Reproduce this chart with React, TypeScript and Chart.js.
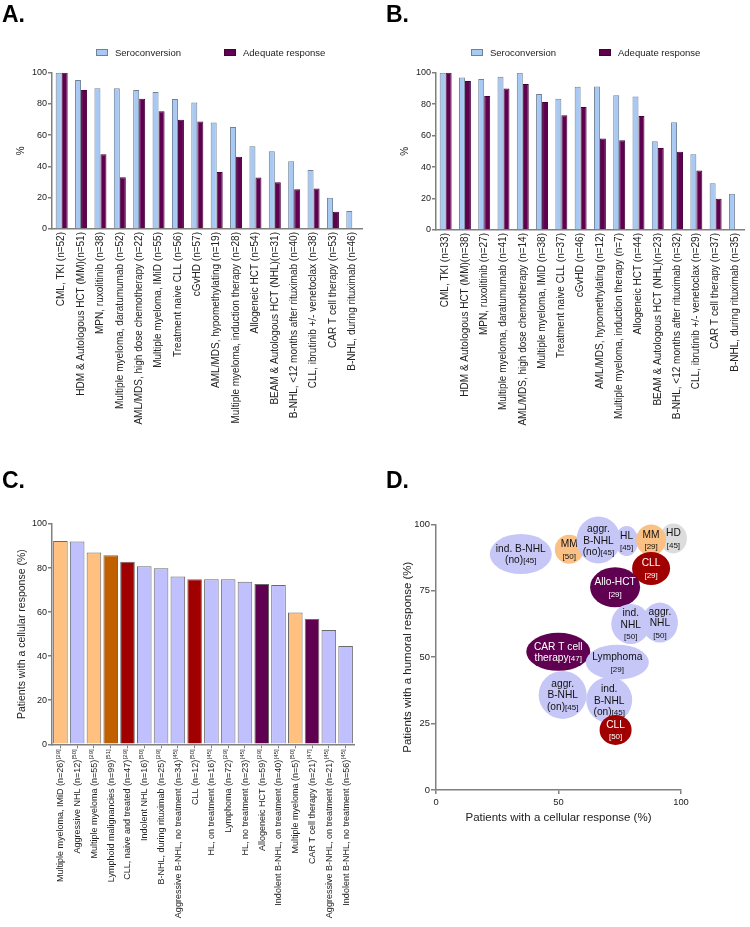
import React, { useEffect, useRef } from 'react';
import { Chart, registerables } from 'chart.js';

Chart.register(...registerables);

const FONT = "'Liberation Sans', Arial, Helvetica, sans-serif";
const TEXT = '#222222';
const AXIS = '#808080';
const LIGHT_BLUE = '#A9C9F5';
const DARK_PURPLE = '#600050';

// ---------- Panel A ----------
const catsA = [
  'CML, TKI (n=52)',
  'HDM & Autologous HCT (MM)(n=51)',
  'MPN, ruxolitinib (n=38)',
  'Multiple myeloma, daratumumab (n=52)',
  'AML/MDS, high dose chemotherapy (n=22)',
  'Multiple myeloma, IMiD (n=55)',
  'Treatment naive CLL (n=56)',
  'cGvHD (n=57)',
  'AML/MDS, hypomethylating (n=19)',
  'Multiple myeloma, induction therapy (n=28)',
  'Allogeneic HCT (n=54)',
  'BEAM & Autologous HCT (NHL)(n=31)',
  'B-NHL, <12 months after rituximab (n=40)',
  'CLL, ibrutinib +/- venetoclax (n=38)',
  'CAR T cell therapy (n=53)',
  'B-NHL, during rituximab (n=46)',
];
const seroA = [100, 95.3, 90, 90, 88.9, 87.6, 83.1, 81, 68.2, 65.2, 53, 49.8, 43.4, 37.8, 20, 11.5];
const adeqA = [100, 88.9, 47.9, 33.1, 83.3, 75.4, 69.9, 68.8, 36.5, 46.2, 32.9, 29.9, 25.4, 25.9, 11.1, 0];

// ---------- Panel B ----------
const catsB = [
  'CML, TKI (n=33)',
  'HDM & Autologous HCT (MM)(n=38)',
  'MPN, ruxolitinib (n=27)',
  'Multiple myeloma, daratumumab (n=41)',
  'AML/MDS, high dose chemotherapy (n=14)',
  'Multiple myeloma, IMiD (n=38)',
  'Treatment naive CLL (n=37)',
  'cGvHD (n=46)',
  'AML/MDS, hypomethylating (n=12)',
  'Multiple myeloma, induction therapy (n=7)',
  'Allogeneic HCT (n=44)',
  'BEAM & Autologous HCT (NHL)(n=23)',
  'B-NHL, <12 months after rituximab (n=32)',
  'CLL, ibrutinib +/- venetoclax (n=29)',
  'CAR T cell therapy (n=37)',
  'B-NHL, during rituximab (n=35)',
];
const seroB = [100, 97.0, 96.0, 97.5, 100, 86.5, 83.5, 91.1, 91.3, 85.6, 84.8, 56.4, 68.5, 48.1, 29.7, 23.0];
const adeqB = [100, 94.7, 85.2, 90.0, 92.8, 81.4, 72.9, 78.2, 58.1, 57.0, 72.5, 52.2, 49.8, 37.8, 19.8, 0];

const legendLabels = ['Seroconversion', 'Adequate response'];

// ---------- Panel C ----------
const catsC = [
  'Multiple myeloma, IMiD (n=26)',
  'Aggressive NHL (n=12)',
  'Multiple myeloma (n=55)',
  'Lymphoid malignancies (n=99)',
  'CLL, naive and treated (n=47)',
  'Indolent NHL (n=16)',
  'B-NHL, during rituximab (n=25)',
  'Aggressive B-NHL, no treatment (n=34)',
  'CLL (n=12)',
  'HL, on treatment (n=16)',
  'Lymphoma (n=72)',
  'HL, no treatment (n=23)',
  'Allogeneic HCT (n=59)',
  'Indolent B-NHL, on treatment (n=40)',
  'Multiple myeloma (n=5)',
  'CAR T cell therapy (n=21)',
  'Aggressive B-NHL, on treatment (n=21)',
  'Indolent B-NHL, no treatment (n=56)',
];
const refsC = ['29', '50', '29', '51', '29', '50', '29', '45', '50', '45', '29', '45', '29', '45', '50', '47', '45', '45'];
const cellC = [92.3, 92.0, 87.1, 85.8, 82.9, 80.8, 79.9, 76.2, 74.9, 74.9, 74.9, 73.8, 72.8, 72.3, 59.8, 56.9, 51.9, 44.6];
const groupC = ['mm', 'nhl', 'mm', 'lymphoid', 'cll', 'nhl', 'nhl', 'nhl', 'cll', 'nhl', 'nhl', 'nhl', 'hct', 'nhl', 'mm', 'hct', 'nhl', 'nhl'];

// ---------- Panel D ----------
const labelsD = [
  'ind. B-NHL\n(no)[45]',
  'MM\n[50]',
  'aggr.\nB-NHL\n(no)[45]',
  'HL\n[45]',
  'HD\n[45]',
  'MM\n[29]',
  'CLL\n[29]',
  'Allo-HCT\n[29]',
  'ind.\nNHL\n[50]',
  'aggr.\nNHL\n[50]',
  'CAR T cell\ntherapy[47]',
  'Lymphoma\n[29]',
  'aggr.\nB-NHL\n(on)[45]',
  'ind.\nB-NHL\n(on)[45]',
  'CLL\n[50]',
];
const cellD = [34.6, 54.4, 66.3, 77.8, 96.9, 87.8, 87.8, 73.1, 79.5, 91.4, 49.9, 74.0, 51.7, 70.7, 73.3];
const humoralD = [88.8, 90.6, 94.1, 93.7, 94.7, 94.1, 83.4, 76.3, 62.5, 63.0, 52.0, 48.1, 35.8, 33.9, 22.6];
const groupD = ['nhl', 'mm', 'nhl', 'nhl', 'hd', 'mm', 'cll', 'hct', 'nhl', 'nhl', 'hct', 'nhl', 'nhl', 'nhl', 'cll'];

// styles (not data)
const colorsC: Record<string, string> = {
  mm: '#FFC080',
  nhl: '#C0C0FF',
  lymphoid: '#C06000',
  cll: '#A00000',
  hct: '#600050',
};
const colorsD: Record<string, string> = {
  mm: '#FBC084',
  nhl: '#C6C6F7',
  hd: '#DCDCDC',
  cll: '#A00000',
  hct: '#600050',
};
const darkGroups = ['cll', 'hct'];
const radXD = [31, 14.5, 22, 11.5, 13.5, 15, 19, 25, 19.5, 18, 32, 31.5, 24, 23, 16];
const radYD = [20, 14.5, 23.5, 15, 15, 15.5, 16.5, 20, 20, 20, 19, 17.5, 24, 23, 15];

// ---------- plugins ----------
const abLegend = {
  id: 'abLegend',
  afterDraw(chart: any) {
    const ctx = chart.ctx;
    const boxX = [96, 224];
    const textX = [115, 243];
    ctx.save();
    ctx.font = `9.5px ${FONT}`;
    ctx.textBaseline = 'middle';
    ctx.textAlign = 'left';
    chart.data.datasets.forEach((ds: any, i: number) => {
      ctx.fillStyle = ds.backgroundColor;
      ctx.fillRect(boxX[i], 49, 12, 7);
      ctx.strokeStyle = ds.borderColor;
      ctx.lineWidth = 1;
      ctx.strokeRect(boxX[i] + 0.5, 49.5, 11, 6);
      ctx.fillStyle = TEXT;
      ctx.fillText(legendLabels[i], textX[i], 53);
    });
    ctx.restore();
  },
};

const cLabels = {
  id: 'cLabels',
  afterDraw(chart: any) {
    const xs = chart.scales.x;
    const ctx = chart.ctx;
    const y0 = xs.top + 5;
    ctx.save();
    ctx.fillStyle = TEXT;
    ctx.textBaseline = 'middle';
    ctx.textAlign = 'right';
    catsC.forEach((lab, i) => {
      const x = xs.getPixelForValue(i);
      ctx.save();
      ctx.translate(x, y0);
      ctx.rotate(-Math.PI / 2);
      const refTxt = `[${refsC[i]}]`;
      ctx.font = `6px ${FONT}`;
      const w = ctx.measureText(refTxt).width;
      ctx.fillText(refTxt, 0, -2.5);
      ctx.font = `9px ${FONT}`;
      ctx.fillText(lab, -w - 0.5, 0.5);
      ctx.restore();
    });
    ctx.restore();
  },
};

const bubbles = {
  id: 'bubbles',
  afterDatasetsDraw(chart: any) {
    const meta = chart.getDatasetMeta(0);
    const ctx = chart.ctx;
    const lh = 11.5;
    meta.data.forEach((pt: any, i: number) => {
      const { x, y } = pt;
      const g = groupD[i];
      ctx.save();
      ctx.beginPath();
      ctx.ellipse(x, y, radXD[i], radYD[i], 0, 0, Math.PI * 2);
      ctx.fillStyle = colorsD[g];
      ctx.fill();
      const lines = labelsD[i].split('\n');
      const n = lines.length;
      ctx.fillStyle = darkGroups.includes(g) ? '#FFFFFF' : '#111111';
      ctx.textBaseline = 'alphabetic';
      ctx.textAlign = 'left';
      lines.forEach((line, k) => {
        const m = line.match(/^(.*?)(\[\d+\])?$/);
        const main = m ? m[1] : line;
        const ref = m && m[2] ? m[2] : '';
        ctx.font = `10.2px ${FONT}`;
        const wm = ctx.measureText(main).width;
        ctx.font = `8px ${FONT}`;
        const wr = ref ? ctx.measureText(ref).width : 0;
        const cy = y - ((n - 1) * lh) / 2 + k * lh;
        const base = cy + 3.6;
        let sx = x - (wm + wr) / 2;
        if (main) {
          ctx.font = `10.2px ${FONT}`;
          ctx.fillText(main, sx, base);
          sx += wm;
        }
        if (ref) {
          ctx.font = `8px ${FONT}`;
          ctx.fillText(ref, sx, base);
        }
      });
      ctx.restore();
    });
  },
};

// ---------- configs ----------
function groupedConfig(cats: string[], sero: number[], adeq: number[], g: any) {
  return {
    type: 'bar',
    data: {
      labels: cats,
      datasets: [
        { label: legendLabels[0], data: sero, backgroundColor: LIGHT_BLUE, borderColor: '#6E8196', borderWidth: 1, barPercentage: 1, categoryPercentage: 0.62 },
        { label: legendLabels[1], data: adeq, backgroundColor: DARK_PURPLE, borderColor: '#45003A', borderWidth: 1, barPercentage: 1, categoryPercentage: 0.62 },
      ],
    },
    options: {
      responsive: false,
      animation: false,
      layout: { padding: { top: g.top, right: g.right, bottom: 0, left: 0 } },
      plugins: { legend: { display: false }, tooltip: { enabled: false } },
      scales: {
        x: {
          grid: { drawOnChartArea: false, drawTicks: false },
          border: { display: true, color: AXIS, width: 1.5 },
          ticks: { autoSkip: false, minRotation: 90, maxRotation: 90, padding: 3, color: TEXT, font: { family: FONT, size: 10 } },
          afterFit: (s: any) => { s.height = g.xh; },
        },
        y: {
          min: 0,
          max: 100,
          ticks: { stepSize: 20, padding: 1, color: TEXT, font: { family: FONT, size: 9 } },
          grid: { drawOnChartArea: false, drawTicks: true, tickLength: 4, color: AXIS, lineWidth: 1.5 },
          border: { display: true, color: AXIS, width: 1.5 },
          title: { display: true, text: '%', color: TEXT, font: { family: FONT, size: 10 }, padding: { top: g.titlePad, bottom: 0 } },
          afterFit: (s: any) => { s.width = g.yw; },
        },
      },
    },
    plugins: [abLegend],
  };
}

const buildA = () => groupedConfig(catsA, seroA, adeqA, { top: 72.7, right: 13, xh: 211, yw: 52, titlePad: 15.7 });
const buildB = () => groupedConfig(catsB, seroB, adeqB, { top: 72.7, right: 3, xh: 210, yw: 61, titlePad: 24 });

const buildC = () => ({
  type: 'bar',
  data: {
    labels: catsC,
    datasets: [
      {
        data: cellC,
        backgroundColor: groupC.map((k) => colorsC[k]),
        borderColor: '#6A6A6A',
        borderWidth: 1,
        barPercentage: 0.87,
        categoryPercentage: 1,
      },
    ],
  },
  options: {
    responsive: false,
    animation: false,
    layout: { padding: { top: 54, right: 21, bottom: 0, left: 0 } },
    plugins: { legend: { display: false }, tooltip: { enabled: false } },
    scales: {
      x: {
        grid: { drawOnChartArea: false, drawTicks: true, tickLength: 4, offset: false, color: AXIS, lineWidth: 1 },
        border: { display: true, color: AXIS, width: 1.5 },
        ticks: { display: false, autoSkip: false },
        afterFit: (s: any) => { s.height = 182.7; },
      },
      y: {
        min: 0,
        max: 100,
        ticks: { stepSize: 20, padding: 1, color: TEXT, font: { family: FONT, size: 9 } },
        grid: { drawOnChartArea: false, drawTicks: true, tickLength: 4, color: AXIS, lineWidth: 1.5 },
        border: { display: true, color: AXIS, width: 1.5 },
        title: { display: true, text: 'Patients with a cellular response (%)', color: TEXT, font: { family: FONT, size: 10.5 }, padding: { top: 16.2, bottom: 0 } },
        afterFit: (s: any) => { s.width = 52; },
      },
    },
  },
  plugins: [cLabels],
});

const buildD = () => ({
  type: 'scatter',
  data: {
    datasets: [
      {
        data: cellD.map((v, i) => ({ x: v, y: humoralD[i] })),
        pointRadius: 0,
        pointHoverRadius: 0,
      },
    ],
  },
  options: {
    responsive: false,
    animation: false,
    layout: { padding: { top: 54.3, right: 69, bottom: 0, left: 0 } },
    plugins: { legend: { display: false }, tooltip: { enabled: false } },
    scales: {
      x: {
        type: 'linear',
        min: 0,
        max: 100,
        grid: { drawOnChartArea: false, drawTicks: true, tickLength: 4, color: AXIS, lineWidth: 1.5 },
        border: { display: true, color: AXIS, width: 1.5 },
        ticks: { stepSize: 50, padding: 3, color: TEXT, font: { family: FONT, size: 9.4 } },
        title: { display: true, text: 'Patients with a cellular response (%)', color: TEXT, font: { family: FONT, size: 11.5 }, padding: { top: 0, bottom: 15.1 } },
        afterFit: (s: any) => { s.height = 50; },
      },
      y: {
        min: 0,
        max: 100,
        grid: { drawOnChartArea: false, drawTicks: true, tickLength: 5, color: AXIS, lineWidth: 1.5 },
        border: { display: true, color: AXIS, width: 1.5 },
        ticks: { stepSize: 25, padding: 1, color: TEXT, font: { family: FONT, size: 9.4 } },
        title: { display: true, text: 'Patients with a humoral response (%)', color: TEXT, font: { family: FONT, size: 11.5 }, padding: { top: 26.1, bottom: 0 } },
        afterFit: (s: any) => { s.width = 61; },
      },
    },
  },
  plugins: [bubbles],
});

function Panel({ left, top, width, height, build }: { left: number; top: number; width: number; height: number; build: () => any }) {
  const ref = useRef<HTMLCanvasElement | null>(null);
  useEffect(() => {
    if (!ref.current) return;
    const chart = new Chart(ref.current, build());
    return () => chart.destroy();
  }, [build]);
  return (
    <canvas
      ref={ref}
      width={width}
      height={height}
      style={{ position: 'absolute', left, top, width, height, display: 'block' }}
    />
  );
}

const letterStyle = (left: number, top: number): React.CSSProperties => ({
  position: 'absolute',
  left,
  top,
  font: `bold 23px ${FONT}`,
  lineHeight: '23px',
  color: '#000',
  margin: 0,
});

export default function App() {
  return (
    <div style={{ position: 'absolute', left: 0, top: 0, width: 750, height: 927, background: '#fff', overflow: 'hidden' }}>
      <Panel left={0} top={0} width={375} height={440} build={buildA} />
      <Panel left={375} top={0} width={375} height={440} build={buildB} />
      <Panel left={0} top={470} width={375} height={457} build={buildC} />
      <Panel left={375} top={470} width={375} height={370} build={buildD} />
      <div style={letterStyle(2, 3)}>A.</div>
      <div style={letterStyle(386, 3)}>B.</div>
      <div style={letterStyle(2, 469)}>C.</div>
      <div style={letterStyle(386, 469)}>D.</div>
    </div>
  );
}
